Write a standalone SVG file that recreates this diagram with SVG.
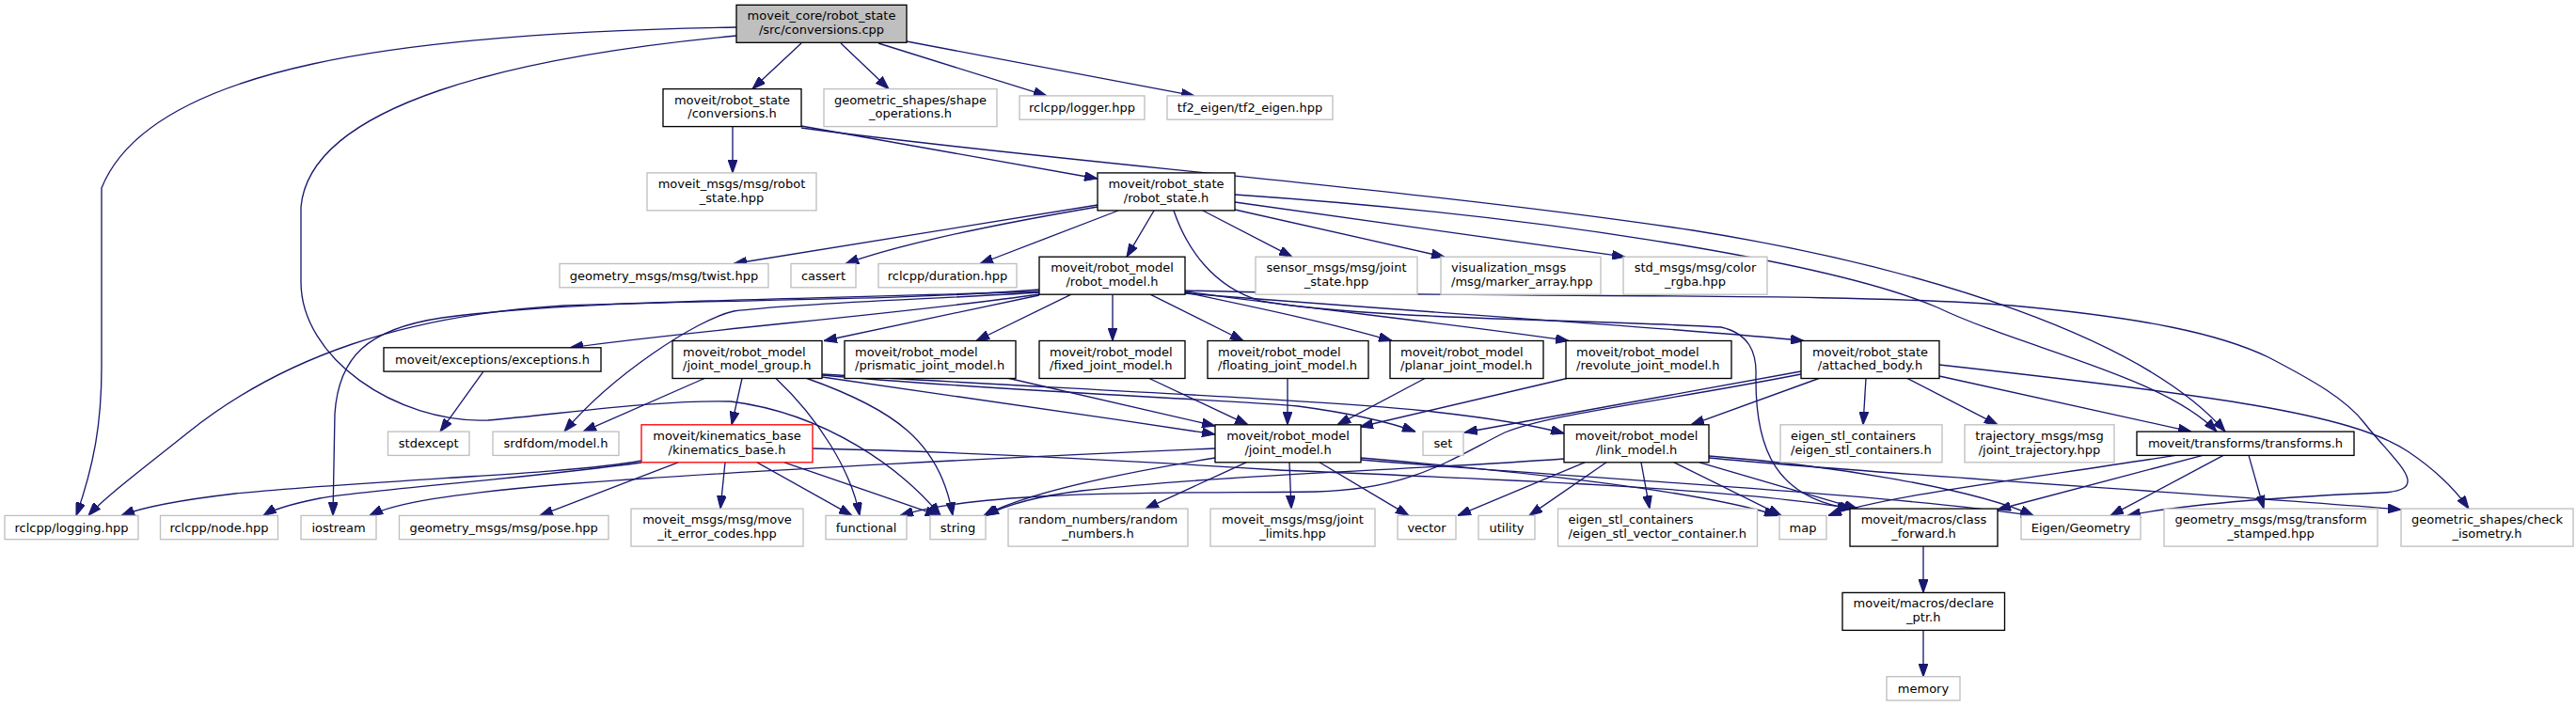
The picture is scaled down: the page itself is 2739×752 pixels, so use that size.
<svg xmlns="http://www.w3.org/2000/svg" width="2739" height="752" viewBox="0 0 2739 752">
<style>
rect{stroke-width:1.33}
.nb rect{fill:#fff;stroke:#000}
.ng rect{fill:#fff;stroke:#bfbfbf}
.nr rect{fill:#fff;stroke:#ff0000}
.nt rect{fill:#bfbfbf;stroke:#000}
text{font-family:"DejaVu Sans","Liberation Sans",sans-serif;font-size:13px;fill:#000}
.c{text-anchor:middle}
#edges path{fill:none;stroke:#191970;stroke-width:1.33;marker-end:url(#ah)}
</style>
<defs>
<marker id="ah" markerUnits="userSpaceOnUse" markerWidth="14" markerHeight="10" viewBox="0 0 13.3 9.4" refX="13.3" refY="4.7" orient="auto">
<path d="M0,0 L13.3,4.7 L0,9.4 z" fill="#191970" stroke="#191970" stroke-width="1"/>
</marker>
</defs>
<rect x="0" y="0" width="2739" height="752" fill="#fff"/>
<g id="edges">
<path d="M852,46 L800,94.6"/>
<path d="M894,46 L945,94.6"/>
<path d="M934,46 L1113,101.9"/>
<path d="M964,44 L1270,101.9"/>
<path d="M783,29 C430,35 160,70 108,200 L108,390 C108,450 100,495 81,548.4"/>
<path d="M783,38 C550,60 330,110 320,220 L320,300 C320,380 420,450 519,447 C600,440 700,425 777,427 C880,440 960,500 1000,548.4"/>
<path d="M779,135 L779,183.9"/>
<path d="M852,134 L1167,190"/>
<path d="M852,136 C1100,170 1500,200 1800,245 C2050,285 2280,360 2366,459.1"/>
<path d="M1167,218 L780,280.5"/>
<path d="M1167,220 C1050,240 950,262 899,280.5"/>
<path d="M1189,224 L1042,280.5"/>
<path d="M1227,224 L1198,273.2"/>
<path d="M1279,224 L1374,273.2"/>
<path d="M1313,223 L1536,273.2"/>
<path d="M1313,215 L1728,273.2"/>
<path d="M1313,207 C1650,230 1950,280 2060,327 C2150,370 2300,400 2357,459.1"/>
<path d="M1248,224 C1262,265 1290,305 1340,320 C1450,340 1700,340 1830,348 C1860,355 1868,375 1867,400 C1866,480 1890,530 1968,541.1"/>
<path d="M1105,313 C950,335 750,350 606,369.8"/>
<path d="M1105,308 C950,320 800,318 600,325 C430,335 300,380 200,460 C150,500 110,530 94,548.4"/>
<path d="M1105,310 C800,320 600,320 470,338 C390,350 360,380 356,440 L354,548.4"/>
<path d="M1105,311 C1000,318 850,322 780,331 C740,340 650,400 600,459.1"/>
<path d="M1105,314 L876,362.5"/>
<path d="M1139,313.2 L1038,362.5"/>
<path d="M1183,313.2 L1183,362.5"/>
<path d="M1223,313.2 L1322,362.5"/>
<path d="M1260,311 C1350,330 1420,345 1480,362.5"/>
<path d="M1260,310 C1380,327 1550,345 1668,362.5"/>
<path d="M1260,312 C1550,335 1800,350 1918,362.5"/>
<path d="M1260,309 C1600,318 1950,310 2139,325 C2280,338 2360,355 2412,380 C2460,405 2495,425 2514,450 C2545,490 2590,522 2532,524 C2440,528 2330,535 2262,548.4"/>
<path d="M514,395.1 L468,459.1"/>
<path d="M749,402.5 L620,459.1"/>
<path d="M789,402.5 L778,451.8"/>
<path d="M825,402.5 C870,445 905,500 914,548.4"/>
<path d="M858,402.5 C950,435 1000,470 1013,548.4"/>
<path d="M874,401 C1000,420 1150,440 1292,462"/>
<path d="M874,399 C1050,415 1300,425 1380,432 C1440,440 1480,450 1505,459.1"/>
<path d="M874,398 C1100,412 1400,425 1515,437 C1580,444 1630,452 1663,461"/>
<path d="M1073,402.5 L1292,453"/>
<path d="M1222,402.5 L1327,451.8"/>
<path d="M1369,402.5 L1369,451.8"/>
<path d="M1515,402.5 L1422,451.8"/>
<path d="M1666,402.5 L1446,454"/>
<path d="M1915,395 L1557,460"/>
<path d="M1915,398 C1750,430 1650,440 1600,460 C1540,490 1500,520 1400,523 C1250,525 1050,520 957,548.4"/>
<path d="M1934,402.5 L1798,451.8"/>
<path d="M1984,402.5 L1981,451.8"/>
<path d="M2028,402.5 L2124,451.8"/>
<path d="M2062,400 L2330,459.1"/>
<path d="M2062,388 C2350,420 2500,440 2560,480 C2590,500 2610,520 2625,541.1"/>
<path d="M682,490 C600,505 400,510 250,525 C190,532 150,540 129,548.4"/>
<path d="M682,492 C550,510 400,520 340,530 C310,536 290,542 280,548.4"/>
<path d="M721,491.8 L574,548.4"/>
<path d="M771,491.8 L766,541.1"/>
<path d="M805,491.8 L906,548.4"/>
<path d="M834,491.8 L998,548.4"/>
<path d="M864,477 C1000,480 1200,490 1360,500 C1600,510 1850,520 1970,541.1"/>
<path d="M1292,477 C1100,485 800,500 600,515 C480,525 420,535 393,548.4"/>
<path d="M1292,487 C1150,510 1080,530 1046,548.4"/>
<path d="M1325,491.8 L1218,541.1"/>
<path d="M1371,491.8 L1373,541.1"/>
<path d="M1403,491.8 L1498,548.4"/>
<path d="M1447,487 C1600,500 1800,520 1890,548.4"/>
<path d="M1447,489 C1700,510 2000,525 2162,548.4"/>
<path d="M1663,488 C1500,500 1300,505 1150,522 C1100,528 1070,537 1048,548.4"/>
<path d="M1685,491.8 L1550,548.4"/>
<path d="M1708,491.8 L1626,548.4"/>
<path d="M1745,491.8 L1754,541.1"/>
<path d="M1780,491.8 L1894,548.4"/>
<path d="M1807,491.8 L1975,541.1"/>
<path d="M1817,485 C1950,495 2100,520 2162,548.4"/>
<path d="M1817,487 C2000,505 2350,525 2553,542"/>
<path d="M2342,484.4 L2124,542"/>
<path d="M2313,484.4 C2150,510 2000,528 1944,548.4"/>
<path d="M2364,484.4 L2244,548.4"/>
<path d="M2391,484.4 L2407,541.1"/>
<path d="M2045,581.1 L2045,630.4"/>
<path d="M2045,670.4 L2045,719.7"/>
</g>
<g id="n0" class="nt"><rect x="783" y="5.3" width="181" height="40"/><text class="c"><tspan x="873.5" y="21.3">moveit_core/robot_state</tspan><tspan x="873.5" y="36">/src/conversions.cpp</tspan></text></g>
<g id="n1" class="nb"><rect x="705" y="94.6" width="147" height="40"/><text class="c"><tspan x="778.5" y="110.6">moveit/robot_state</tspan><tspan x="778.5" y="125.3">/conversions.h</tspan></text></g>
<g id="n2" class="ng"><rect x="876" y="94.6" width="184" height="40"/><text class="c"><tspan x="968" y="110.6">geometric_shapes/shape</tspan><tspan x="968" y="125.3">_operations.h</tspan></text></g>
<g id="n3" class="ng"><rect x="1084" y="101.9" width="133" height="25.3"/><text class="c" x="1150.5" y="119.2">rclcpp/logger.hpp</text></g>
<g id="n4" class="ng"><rect x="1241" y="101.9" width="176" height="25.3"/><text class="c" x="1329" y="119.2">tf2_eigen/tf2_eigen.hpp</text></g>
<g id="n5" class="ng"><rect x="688" y="183.9" width="180" height="40"/><text class="c"><tspan x="778" y="199.9">moveit_msgs/msg/robot</tspan><tspan x="778" y="214.6">_state.hpp</tspan></text></g>
<g id="n6" class="nb"><rect x="1167" y="183.9" width="146" height="40"/><text class="c"><tspan x="1240" y="199.9">moveit/robot_state</tspan><tspan x="1240" y="214.6">/robot_state.h</tspan></text></g>
<g id="n7" class="ng"><rect x="595" y="280.5" width="222" height="25.3"/><text class="c" x="706" y="297.8">geometry_msgs/msg/twist.hpp</text></g>
<g id="n8" class="ng"><rect x="841" y="280.5" width="69" height="25.3"/><text class="c" x="875.5" y="297.8">cassert</text></g>
<g id="n9" class="ng"><rect x="934" y="280.5" width="147" height="25.3"/><text class="c" x="1007.5" y="297.8">rclcpp/duration.hpp</text></g>
<g id="n10" class="nb"><rect x="1105" y="273.2" width="155" height="40"/><text class="c"><tspan x="1182.5" y="289.2">moveit/robot_model</tspan><tspan x="1182.5" y="303.9">/robot_model.h</tspan></text></g>
<g id="n11" class="ng"><rect x="1335" y="273.2" width="172" height="40"/><text class="c"><tspan x="1421" y="289.2">sensor_msgs/msg/joint</tspan><tspan x="1421" y="303.9">_state.hpp</tspan></text></g>
<g id="n12" class="ng"><rect x="1532" y="273.2" width="170" height="40"/><text><tspan x="1543" y="289.2">visualization_msgs</tspan><tspan x="1543" y="303.9">/msg/marker_array.hpp</tspan></text></g>
<g id="n13" class="ng"><rect x="1726" y="273.2" width="153" height="40"/><text class="c"><tspan x="1802.5" y="289.2">std_msgs/msg/color</tspan><tspan x="1802.5" y="303.9">_rgba.hpp</tspan></text></g>
<g id="n14" class="nb"><rect x="408" y="369.8" width="231" height="25.3"/><text class="c" x="523.5" y="387.1">moveit/exceptions/exceptions.h</text></g>
<g id="n15" class="nb"><rect x="715" y="362.5" width="159" height="40"/><text><tspan x="726" y="378.5">moveit/robot_model</tspan><tspan x="726" y="393.2">/joint_model_group.h</tspan></text></g>
<g id="n16" class="nb"><rect x="898" y="362.5" width="182" height="40"/><text><tspan x="909" y="378.5">moveit/robot_model</tspan><tspan x="909" y="393.2">/prismatic_joint_model.h</tspan></text></g>
<g id="n17" class="nb"><rect x="1105" y="362.5" width="155" height="40"/><text><tspan x="1116" y="378.5">moveit/robot_model</tspan><tspan x="1116" y="393.2">/fixed_joint_model.h</tspan></text></g>
<g id="n18" class="nb"><rect x="1284" y="362.5" width="171" height="40"/><text><tspan x="1295" y="378.5">moveit/robot_model</tspan><tspan x="1295" y="393.2">/floating_joint_model.h</tspan></text></g>
<g id="n19" class="nb"><rect x="1478" y="362.5" width="163" height="40"/><text><tspan x="1489" y="378.5">moveit/robot_model</tspan><tspan x="1489" y="393.2">/planar_joint_model.h</tspan></text></g>
<g id="n20" class="nb"><rect x="1665" y="362.5" width="176" height="40"/><text><tspan x="1676" y="378.5">moveit/robot_model</tspan><tspan x="1676" y="393.2">/revolute_joint_model.h</tspan></text></g>
<g id="n21" class="nb"><rect x="1915" y="362.5" width="147" height="40"/><text class="c"><tspan x="1988.5" y="378.5">moveit/robot_state</tspan><tspan x="1988.5" y="393.2">/attached_body.h</tspan></text></g>
<g id="n22" class="ng"><rect x="412.5" y="459.1" width="86.5" height="25.3"/><text class="c" x="455.75" y="476.4">stdexcept</text></g>
<g id="n23" class="ng"><rect x="524" y="459.1" width="134" height="25.3"/><text class="c" x="591" y="476.4">srdfdom/model.h</text></g>
<g id="n24" class="nr"><rect x="682" y="451.8" width="182" height="40"/><text class="c"><tspan x="773" y="467.8">moveit/kinematics_base</tspan><tspan x="773" y="482.5">/kinematics_base.h</tspan></text></g>
<g id="n25" class="nb"><rect x="1292" y="451.8" width="155" height="40"/><text class="c"><tspan x="1369.5" y="467.8">moveit/robot_model</tspan><tspan x="1369.5" y="482.5">/joint_model.h</tspan></text></g>
<g id="n26" class="ng"><rect x="1513" y="459.1" width="43" height="25.3"/><text class="c" x="1534.5" y="476.4">set</text></g>
<g id="n27" class="nb"><rect x="1663" y="451.8" width="154" height="40"/><text class="c"><tspan x="1740" y="467.8">moveit/robot_model</tspan><tspan x="1740" y="482.5">/link_model.h</tspan></text></g>
<g id="n28" class="ng"><rect x="1893" y="451.8" width="172" height="40"/><text><tspan x="1904" y="467.8">eigen_stl_containers</tspan><tspan x="1904" y="482.5">/eigen_stl_containers.h</tspan></text></g>
<g id="n29" class="ng"><rect x="2089" y="451.8" width="159" height="40"/><text class="c"><tspan x="2168.5" y="467.8">trajectory_msgs/msg</tspan><tspan x="2168.5" y="482.5">/joint_trajectory.hpp</tspan></text></g>
<g id="n30" class="nb"><rect x="2272" y="459.1" width="231" height="25.3"/><text class="c" x="2387.5" y="476.4">moveit/transforms/transforms.h</text></g>
<g id="n31" class="ng"><rect x="5" y="548.4" width="142" height="25.3"/><text class="c" x="76" y="565.7">rclcpp/logging.hpp</text></g>
<g id="n32" class="ng"><rect x="170.5" y="548.4" width="125" height="25.3"/><text class="c" x="233" y="565.7">rclcpp/node.hpp</text></g>
<g id="n33" class="ng"><rect x="320" y="548.4" width="80" height="25.3"/><text class="c" x="360" y="565.7">iostream</text></g>
<g id="n34" class="ng"><rect x="424.5" y="548.4" width="222.5" height="25.3"/><text class="c" x="535.75" y="565.7">geometry_msgs/msg/pose.hpp</text></g>
<g id="n35" class="ng"><rect x="671" y="541.1" width="183" height="40"/><text class="c"><tspan x="762.5" y="557.1">moveit_msgs/msg/move</tspan><tspan x="762.5" y="571.8">_it_error_codes.hpp</tspan></text></g>
<g id="n36" class="ng"><rect x="878" y="548.4" width="86" height="25.3"/><text class="c" x="921" y="565.7">functional</text></g>
<g id="n37" class="ng"><rect x="989" y="548.4" width="59" height="25.3"/><text class="c" x="1018.5" y="565.7">string</text></g>
<g id="n38" class="ng"><rect x="1072" y="541.1" width="191" height="40"/><text class="c"><tspan x="1167.5" y="557.1">random_numbers/random</tspan><tspan x="1167.5" y="571.8">_numbers.h</tspan></text></g>
<g id="n39" class="ng"><rect x="1287" y="541.1" width="175" height="40"/><text class="c"><tspan x="1374.5" y="557.1">moveit_msgs/msg/joint</tspan><tspan x="1374.5" y="571.8">_limits.hpp</tspan></text></g>
<g id="n40" class="ng"><rect x="1486" y="548.4" width="62" height="25.3"/><text class="c" x="1517" y="565.7">vector</text></g>
<g id="n41" class="ng"><rect x="1572" y="548.4" width="60" height="25.3"/><text class="c" x="1602" y="565.7">utility</text></g>
<g id="n42" class="ng"><rect x="1656.5" y="541.1" width="212" height="40"/><text><tspan x="1667.5" y="557.1">eigen_stl_containers</tspan><tspan x="1667.5" y="571.8">/eigen_stl_vector_container.h</tspan></text></g>
<g id="n43" class="ng"><rect x="1892" y="548.4" width="50" height="25.3"/><text class="c" x="1917" y="565.7">map</text></g>
<g id="n44" class="nb"><rect x="1967" y="541.1" width="157" height="40"/><text class="c"><tspan x="2045.5" y="557.1">moveit/macros/class</tspan><tspan x="2045.5" y="571.8">_forward.h</tspan></text></g>
<g id="n45" class="ng"><rect x="2149" y="548.4" width="127" height="25.3"/><text class="c" x="2212.5" y="565.7">Eigen/Geometry</text></g>
<g id="n46" class="ng"><rect x="2301" y="541.1" width="227" height="40"/><text class="c"><tspan x="2414.5" y="557.1">geometry_msgs/msg/transform</tspan><tspan x="2414.5" y="571.8">_stamped.hpp</tspan></text></g>
<g id="n47" class="ng"><rect x="2553" y="541.1" width="183" height="40"/><text class="c"><tspan x="2644.5" y="557.1">geometric_shapes/check</tspan><tspan x="2644.5" y="571.8">_isometry.h</tspan></text></g>
<g id="n48" class="nb"><rect x="1959" y="630.4" width="172.5" height="40"/><text class="c"><tspan x="2045.25" y="646.4">moveit/macros/declare</tspan><tspan x="2045.25" y="661.1">_ptr.h</tspan></text></g>
<g id="n49" class="ng"><rect x="2006" y="719.7" width="78" height="25.3"/><text class="c" x="2045" y="737">memory</text></g>
</svg>
